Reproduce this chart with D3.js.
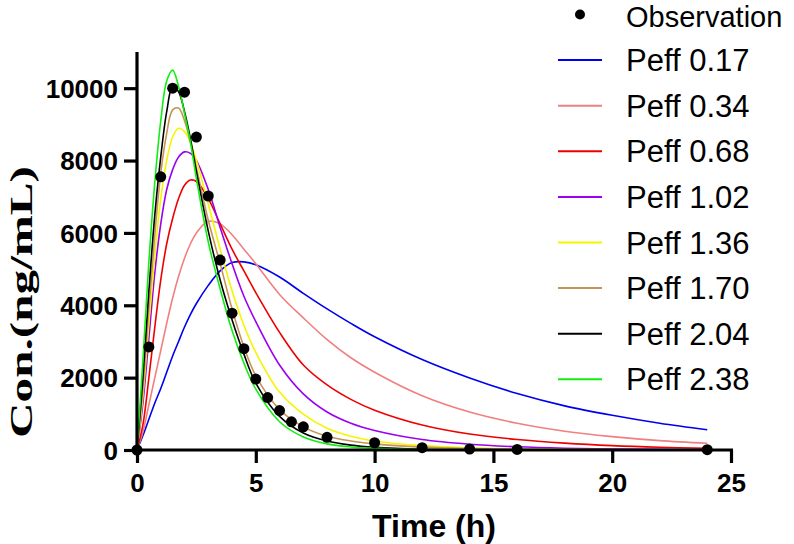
<!DOCTYPE html>
<html><head><meta charset="utf-8">
<script src="https://cdn.jsdelivr.net/npm/d3@7"></script>
<style>html,body{margin:0;padding:0;background:#fff;}svg{display:block;}</style>
</head><body>
<svg id="chart" width="794" height="544"></svg>
<script>
// ---- data ----
const times = [0,0.25,0.5,0.75,1,1.25,1.5,1.75,2,2.25,2.5,3,3.5,4,4.5,5,6,7,8,9,10,12,14,16,18,20,22,24];
const peff017 = [0,400,850,1300,1700,2150,2600,3000,3400,3750,4050,4550,4950,5180,5200,5120,4780,4330,3900,3500,3130,2500,1990,1560,1220,960,740,560];
const peff034 = [0,500,1250,2000,2750,3500,4200,4800,5300,5700,6000,6320,6250,5950,5550,5150,4300,3650,3050,2550,2150,1500,1050,740,520,370,260,185];
const peff068 = [0,700,2000,3400,4700,5700,6400,6950,7320,7460,7420,6950,6250,5550,4950,4350,3250,2350,1800,1400,1100,690,440,290,190,120,75,48];
const peff102 = [0,1300,3100,4900,6250,7200,7750,8100,8240,8200,8000,7200,6150,5150,4250,3550,2350,1550,1050,740,540,290,160,90,50,28,16,9];
const peff136 = [0,1500,3500,5400,6950,8000,8650,8890,8800,8500,8000,6800,5550,4400,3450,2700,1600,990,600,380,250,120,60,30,15,8,4,2];
const peff170 = [0,1700,3900,5950,7650,8750,9400,9450,9100,8500,7800,6350,5150,3900,2850,2050,1120,640,380,250,170,80,38,18,9,4,2,1];
const peff204 = [0,2000,4400,6500,8100,9350,10050,9900,9350,8600,7700,6050,4700,3600,2650,1850,930,470,250,135,75,22,7,2,1,0,0,0];
const peff238 = [0,2500,5200,7400,9100,10200,10500,10050,9300,8500,7500,5750,4450,3300,2400,1680,780,360,170,85,45,12,4,1,0,0,0,0];
const obsTime = [0,0.5,1,1.5,2,2.5,3,3.5,4,4.5,5,5.5,6,6.5,7,8,10,12,14,16,24];
const obsConc = [0,2850,7550,10000,9890,8650,7020,5250,3780,2800,1960,1450,1090,780,640,350,200,65,25,15,10];
const seriesNames = ["Peff 0.17","Peff 0.34","Peff 0.68","Peff 1.02","Peff 1.36","Peff 1.70","Peff 2.04","Peff 2.38"];
const seriesColors = ["#0000ee","#f08080","#ee0000","#9b00f0","#f5f500","#c49455","#000000","#11ee11"];
const xTicks = [0,5,10,15,20,25];
const yTicks = [0,2000,4000,6000,8000,10000];

const seriesValues = [peff017,peff034,peff068,peff102,peff136,peff170,peff204,peff238];

// ---- drawing ----
const svg = d3.select("#chart");
const x = d3.scaleLinear().domain([0,25]).range([137,731]);
const y = d3.scaleLinear().domain([0,11000]).range([450,52]);

const line = d3.line().x(d=>x(d[0])).y(d=>y(Math.max(0,d[1]))).curve(d3.curveCatmullRom.alpha(0.5));

seriesValues.forEach((vals,i)=>{
  svg.append("path")
    .datum(times.map((t,j)=>[t,vals[j]]))
    .attr("fill","none").attr("stroke",seriesColors[i]).attr("stroke-width",1.6)
    .attr("d",line);
});

// observations
svg.append("g").selectAll("circle").data(obsTime.map((t,i)=>[t,obsConc[i]])).join("circle")
  .attr("cx",d=>x(d[0])).attr("cy",d=>y(d[1])).attr("r",5.5).attr("fill","#000");

// axes
const xAxis = svg.append("g").attr("transform","translate(0,450)")
  .call(d3.axisBottom(x).tickValues(xTicks).tickSize(13).tickFormat(d3.format("d")));
const yAxis = svg.append("g").attr("transform","translate(137,0)")
  .call(d3.axisLeft(y).tickValues(yTicks).tickSize(13).tickFormat(d3.format("d")));
[xAxis,yAxis].forEach(g=>{
  g.select(".domain").attr("stroke","#000").attr("stroke-width",3.2);
  g.selectAll(".tick line").attr("stroke","#000").attr("stroke-width",3.2);
  g.selectAll(".tick text").attr("fill","#000")
   .style("font-family","'Liberation Sans', Arial, sans-serif").style("font-weight","bold").style("font-size","26px");
});
xAxis.select(".domain").attr("d","M134,0H733");
yAxis.select(".domain").attr("d","M0,452V52");
xAxis.selectAll(".tick text").attr("y",24).attr("dy","0.71em");
yAxis.selectAll(".tick text").attr("x",-19).attr("dy","0.35em");

// axis titles
svg.append("text").attr("x",434).attr("y",537).attr("text-anchor","middle")
  .style("font-family","'Liberation Sans', Arial, sans-serif").style("font-weight","bold").style("font-size","32px")
  .text("Time (h)");
svg.append("text").attr("transform","translate(32,302) rotate(-90)").attr("text-anchor","middle")
  .attr("textLength",272).attr("lengthAdjust","spacingAndGlyphs")
  .style("font-family","'Liberation Serif', 'Times New Roman', serif").style("font-weight","bold").style("font-size","32px")
  .text("Con.(ng/mL)");

// legend
const lg = svg.append("g");
const rowY = i => 14.5 + i*45.6;
lg.append("circle").attr("cx",580).attr("cy",rowY(0)).attr("r",5).attr("fill","#000");
seriesNames.forEach((n,i)=>{
  lg.append("line").attr("x1",558).attr("x2",602).attr("y1",rowY(i+1)).attr("y2",rowY(i+1))
    .attr("stroke",seriesColors[i]).attr("stroke-width",2);
  lg.append("text").attr("x",626).attr("y",rowY(i+1)+11).text(n);
});
lg.selectAll("text").style("font-family","'Liberation Sans', Arial, sans-serif").style("font-size","31px").attr("fill","#000");
lg.append("text").attr("x",626).attr("y",27).text("Observation")
  .style("font-family","'Liberation Sans', Arial, sans-serif").style("font-size","29px").attr("fill","#000");
</script>
</body></html>
